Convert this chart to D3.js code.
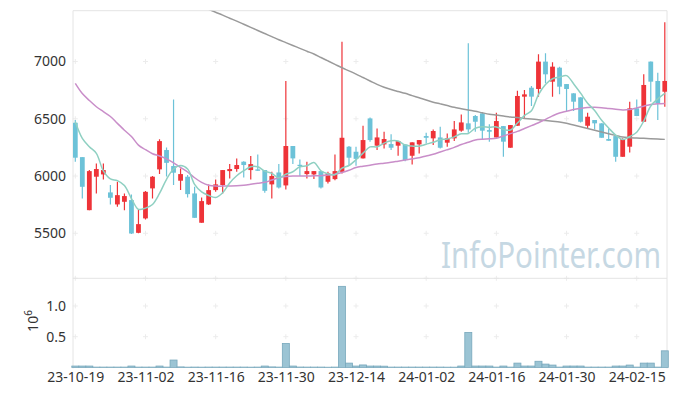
<!DOCTYPE html>
<html><head><meta charset="utf-8">
<script src="https://cdn.jsdelivr.net/npm/d3@7/dist/d3.min.js"></script>
<style>body{margin:0;background:#fff}svg{display:block}text{font-family:"Noto Sans",sans-serif}</style>
</head><body><svg id="c" width="677" height="396"></svg>
<script>
// ---- data ----
const tickIndex=[0,10,20,30,40,50,60,70,80];
const tickLabels=["23-10-19","23-11-02","23-11-16","23-11-30","23-12-14","24-01-02","24-01-16","24-01-30","24-02-15"];
const priceTicks=[5500,6000,6500,7000];
const volTicks=[0.5,1.0];
const opens=[6465,6165,5702,5994,6014,5857,5752,5775,5790,5504,5630,5892,6058,6227,6087,5959,5994,5848,5592,5752,
5877,5921,6043,6061,6125,6052,6058,6052,5927,6031,5918,6262,6098,6017,6014,6043,5950,5973,6037,6256,
6212,6154,6503,6265,6276,6279,6265,6276,6177,6276,6349,6329,6337,6291,6329,6396,6460,6524,6547,6401,
6337,6436,6247,6439,6693,6771,6760,6999,6824,6946,6803,6722,6687,6439,6489,6460,6323,6349,6168,6256,
6591,6474,6999,6830,6736];
const highs=[6489,6165,6052,6110,6110,5921,5950,5848,5839,5708,5870,6000,6320,6250,6669,6066,6008,5906,5813,5927,
5970,6052,6104,6154,6130,6174,6189,6052,6037,6104,6830,6262,6145,6124,6043,6043,6037,6189,7173,6262,
6256,6439,6512,6416,6387,6364,6305,6276,6294,6314,6378,6407,6430,6372,6480,6538,7159,6532,6553,6451,
6553,6436,6445,6745,6751,6786,7063,7071,6993,6955,6803,6722,6687,6553,6489,6460,6416,6349,6329,6649,
6669,6888,6999,6902,7342];
const lows=[6125,5804,5702,5848,5970,5752,5731,5702,5493,5500,5621,5804,6017,5995,5921,5877,5813,5635,5592,5746,
5863,5848,5979,6037,5988,5970,6046,5854,5804,5892,5883,6104,6000,5979,5973,5892,5935,5964,6023,6095,
6090,6154,6300,6227,6241,6227,6177,6130,6101,6197,6285,6270,6241,6256,6305,6387,6378,6387,6320,6300,
6337,6168,6247,6439,6509,6611,6693,6809,6693,6713,6567,6567,6468,6416,6407,6334,6308,6125,6168,6206,
6524,6474,6649,6489,6605];
const closes=[6160,5906,6043,6061,6052,5810,5833,5825,5498,5580,5862,5994,6305,6115,6029,6017,5842,5635,5781,5877,
5927,6052,6061,6096,6096,6104,6046,5871,6000,5900,6262,6154,6090,6043,6043,5900,6023,6043,6334,6160,
6150,6314,6314,6337,6323,6247,6305,6139,6294,6314,6334,6393,6247,6329,6407,6468,6407,6474,6396,6387,
6480,6300,6445,6699,6713,6693,6999,6888,6955,6780,6760,6649,6474,6518,6460,6334,6308,6168,6323,6591,
6524,6795,6824,6634,6830];
const priorCloses=[6631,6408,6351,6820];
const volumes=[0.022,0.022,0.022,0.005,0.005,0.005,0.005,0.005,0.022,0.005,0.005,0.005,0.022,0.005,0.12,0.008,0.004,0.005,0.004,0.005,
0.005,0.005,0.005,0.005,0.005,0.004,0.005,0.022,0.008,0.005,0.39,0.022,0.006,0.005,0.005,0.005,0.003,0.005,1.32,0.07,
0.022,0.04,0.022,0.022,0.02,0.005,0.005,0.005,0.005,0.005,0.005,0.005,0.005,0.004,0.004,0.022,0.57,0.022,0.022,0.022,
0.005,0.022,0.005,0.07,0.022,0.022,0.10,0.054,0.038,0.005,0.022,0.022,0.022,0.005,0.005,0.005,0.005,0.022,0.022,0.038,
0.005,0.07,0.07,0.005,0.27];
const ma20=[6809,6720,6660,6605,6562,6520,6460,6400,6345,6270,6230,6195,6175,6150,6115,6075,6035,5985,5945,5920,
5912,5912,5913,5915,5920,5928,5937,5945,5965,5985,5995,6000,6000,6000,6002,6003,6008,6015,6030,6050,
6075,6085,6095,6105,6112,6120,6130,6140,6150,6160,6175,6190,6210,6230,6250,6275,6295,6315,6322,6325,
6330,6350,6370,6390,6415,6440,6465,6495,6525,6550,6565,6580,6590,6598,6600,6597,6590,6583,6576,6580,
6595,6610,6625,6630,6634];
const maLong=[null,null,null,null,null,null,null,null,null,null,null,null,null,null,null,null,null,null,7480,7455,
7430,7405,7378,7352,7325,7298,7271,7244,7217,7190,7165,7140,7115,7090,7065,7035,7005,6975,6945,6918,
6890,6860,6830,6800,6775,6755,6738,6722,6702,6683,6663,6645,6630,6615,6600,6588,6576,6565,6552,6540,
6532,6524,6515,6510,6503,6497,6492,6485,6478,6472,6460,6445,6430,6415,6400,6385,6370,6355,6340,6335,
6332,6329,6326,6323,6320];

// ---- layout ----
const L=73,R=667,T=10.7,MB=278.3,VB=367.4;
const svg=d3.select("#c");
const x=d3.scaleLinear().domain([0,84]).range([75.3,664.8]);
const y=d3.scaleLinear().domain([5107,7443.5]).range([MB,T]);
const yv=d3.scaleLinear().domain([0,1.451]).range([VB,MB]);
const step=x(1)-x(0);

svg.append("defs").append("clipPath").attr("id","clipMain").append("rect")
  .attr("x",L).attr("y",T).attr("width",R-L).attr("height",MB-T);

// grid plus marks
const gridG=svg.append("g").attr("stroke","#ececec").attr("stroke-width",1);
function plus(px,py){
  gridG.append("line").attr("x1",px-2.5).attr("x2",px+2.5).attr("y1",py).attr("y2",py);
  gridG.append("line").attr("x1",px).attr("x2",px).attr("y1",py-2.5).attr("y2",py+2.5);
}
tickIndex.forEach(t=>{
  priceTicks.forEach(v=>plus(x(t),y(v)));
  volTicks.forEach(v=>plus(x(t),yv(v)));
  plus(x(t),MB);
});

// frame
const fr=svg.append("g").attr("stroke","#e4e4e4").attr("stroke-width",1).attr("fill","none");
fr.append("line").attr("x1",L).attr("x2",R).attr("y1",T).attr("y2",T);
fr.append("line").attr("x1",L).attr("x2",R).attr("y1",MB).attr("y2",MB);
fr.append("line").attr("x1",L).attr("x2",L).attr("y1",T).attr("y2",VB+1);
fr.append("line").attr("x1",R).attr("x2",R).attr("y1",T).attr("y2",VB+1);

// watermark (horizontally condensed)
svg.append("text").attr("transform","translate(441,268) scale(0.82,1)")
  .attr("font-size",36).attr("fill","#c6d8e3").text("InfoPointer.com");

// candles
const idx=d3.range(closes.length);
const up="#ee3338", down="#6cc2d8";
const cg=svg.append("g").attr("clip-path","url(#clipMain)");
cg.selectAll("line.w").data(idx).join("line").attr("class","w")
  .attr("x1",i=>x(i)).attr("x2",i=>x(i)).attr("y1",i=>y(highs[i])).attr("y2",i=>y(lows[i]))
  .attr("stroke",i=>closes[i]>=opens[i]?up:down).attr("stroke-width",1.2);
cg.selectAll("rect.b").data(idx).join("rect").attr("class","b")
  .attr("x",i=>x(i)-2.4).attr("width",4.8)
  .attr("y",i=>y(Math.max(opens[i],closes[i])))
  .attr("height",i=>Math.max(1.2,Math.abs(y(opens[i])-y(closes[i]))))
  .attr("fill",i=>closes[i]>=opens[i]?up:down);

// moving averages
const all=priorCloses.concat(closes);
const ma5=idx.map(i=>d3.mean(all.slice(i,i+5)));
const line=arr=>d3.line().defined(i=>arr[i]!=null).x(i=>x(i)).y(i=>y(arr[i])).curve(d3.curveCatmullRom)(idx);
cg.append("path").attr("d",line(maLong)).attr("fill","none").attr("stroke","#9a9a9a").attr("stroke-width",1.5);
cg.append("path").attr("d",line(ma20)).attr("fill","none").attr("stroke","#c98ec9").attr("stroke-width",1.5);
cg.append("path").attr("d",line(ma5)).attr("fill","none").attr("stroke","#8fd0c2").attr("stroke-width",1.5);

// volume
svg.append("g").selectAll("rect").data(idx).join("rect")
  .attr("x",i=>x(i)-step/2).attr("width",step)
  .attr("y",i=>yv(volumes[i])).attr("height",i=>VB-yv(volumes[i]))
  .attr("fill","#9bc4d4").attr("stroke","#78a8bc").attr("stroke-width",0.8);

// axes
const ax=svg.append("g").attr("transform",`translate(${L},0)`)
  .call(d3.axisLeft(y).tickValues(priceTicks).tickFormat(d3.format("d")).tickSize(0).tickPadding(7));
const av=svg.append("g").attr("transform",`translate(${L},0)`)
  .call(d3.axisLeft(yv).tickValues(volTicks).tickFormat(d3.format(".1f")).tickSize(0).tickPadding(7));
const axb=svg.append("g").attr("transform",`translate(0,${VB})`)
  .call(d3.axisBottom(x).tickValues(tickIndex).tickFormat((d,i)=>tickLabels[i]).tickSize(0).tickPadding(5));
[ax,av,axb].forEach(g=>{g.select(".domain").remove();
  g.selectAll("text").attr("font-size",14).attr("fill","#333").attr("font-family","'Noto Sans',sans-serif");});

// volume unit label
const ul=svg.append("text").attr("transform","translate(38,321) rotate(-90)")
  .attr("text-anchor","middle").attr("font-size",14).attr("fill","#333");
ul.append("tspan").text("10");
ul.append("tspan").attr("dy",-6).attr("font-size",10).text("6");
</script></body></html>
